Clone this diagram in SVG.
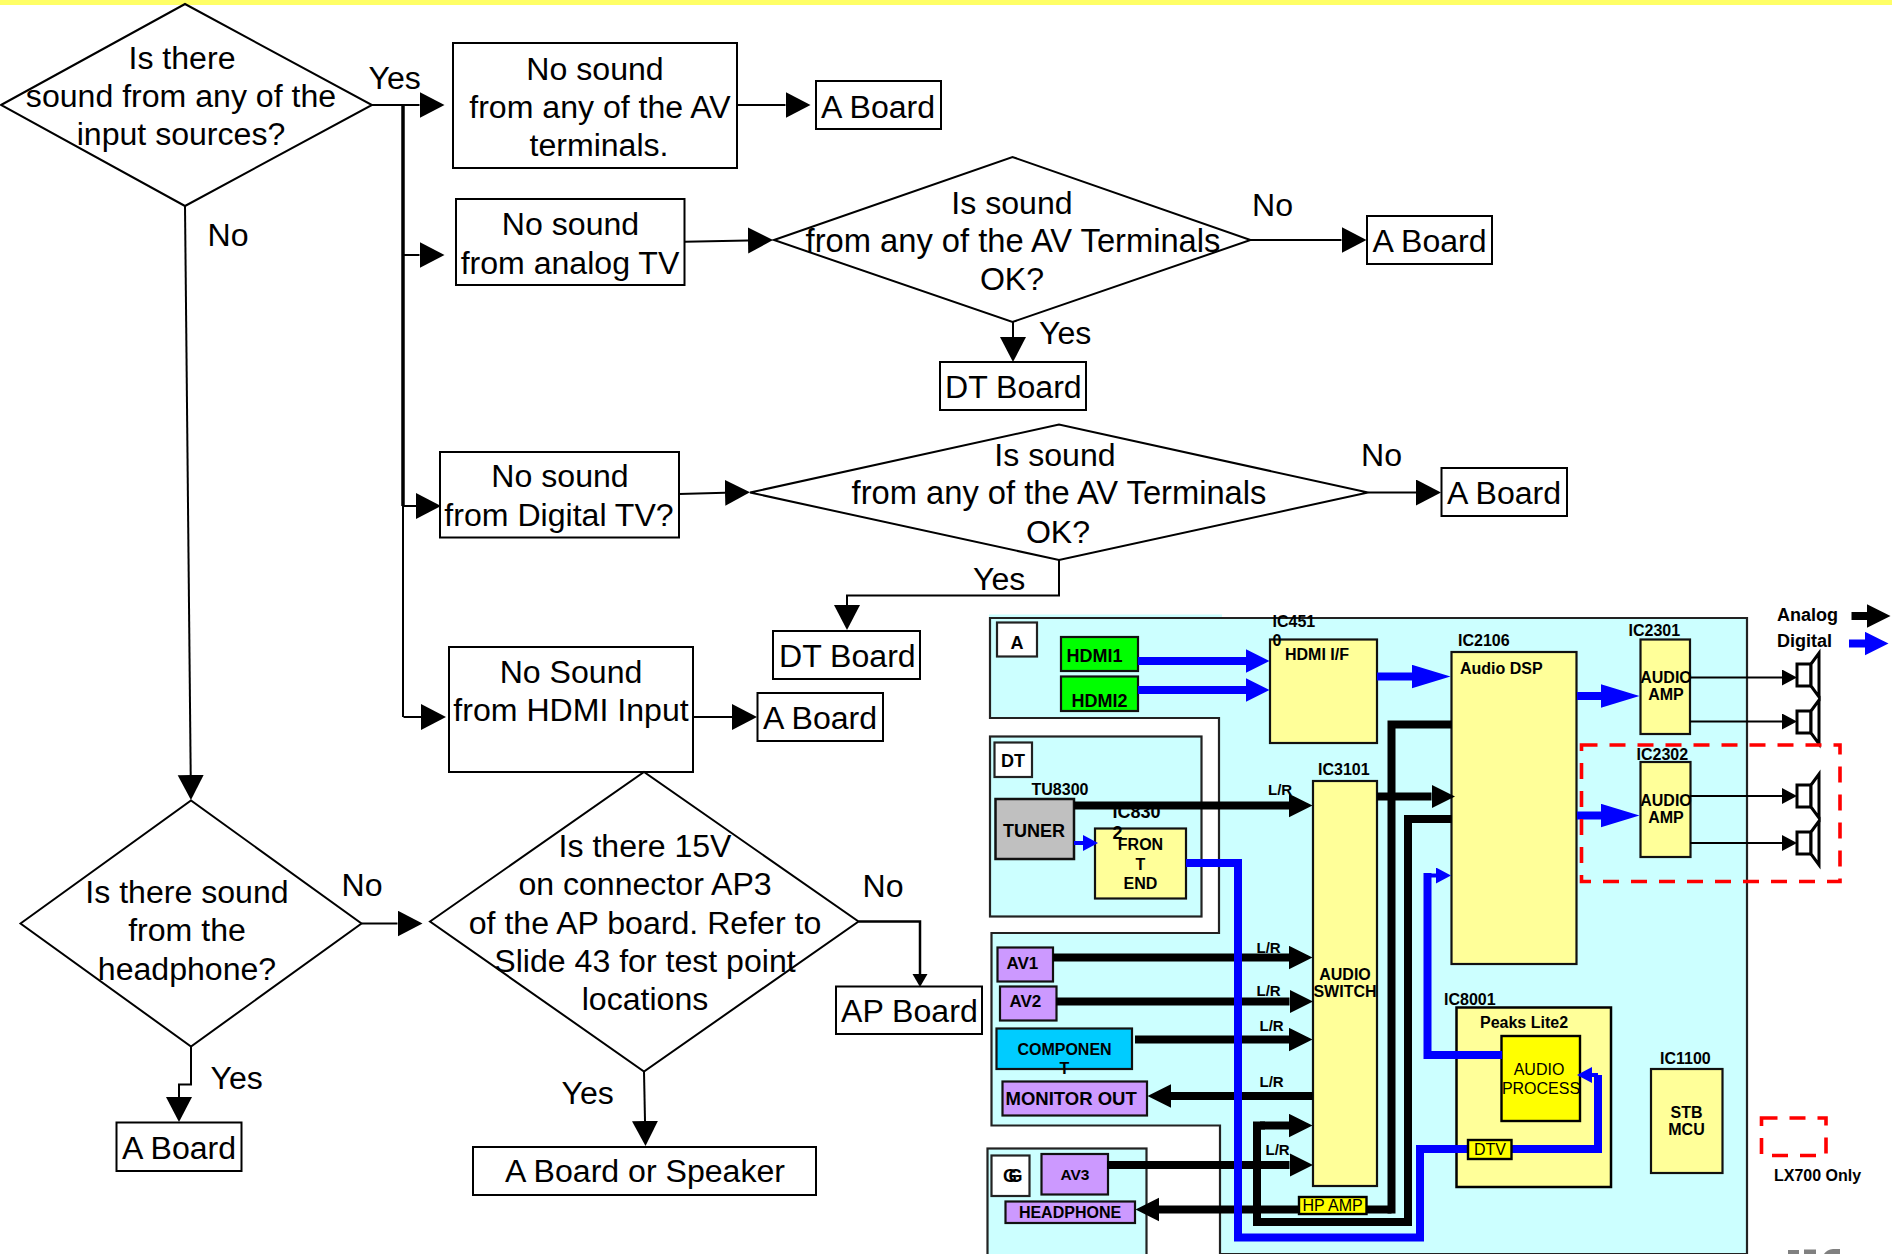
<svg xmlns="http://www.w3.org/2000/svg" width="1892" height="1254" viewBox="0 0 1892 1254">
<style>
text{font-family:"Liberation Sans",Arial,sans-serif;fill:#000}
.f{font-size:32.1px;transform:translateY(.6px)}
.f.v{font-size:32.7px}
.m{text-anchor:middle}
.b{font-size:16px;font-weight:bold}
.r{font-size:16px}
.n{fill:#fff;stroke:#000;stroke-width:2}
.y{fill:#ffff99;stroke:#111;stroke-width:2.2}
.c{fill:#ccffff;stroke:#222;stroke-width:2.2}
.w{fill:#fff;stroke:#222;stroke-width:2.2}
.p{fill:#cc99ff;stroke:#111;stroke-width:2.2}
.ye{fill:#ffff00;stroke:#000;stroke-width:2.4}
.fl{fill:none;stroke:#000;stroke-width:2;marker-end:url(#hf)}
.fp{fill:none;stroke:#000;stroke-width:2}
.k{fill:none;stroke:#000;stroke-width:8;marker-end:url(#hk)}
.u{fill:none;stroke:#0000ff;stroke-width:8;marker-end:url(#hb)}
.kp{fill:none;stroke:#000;stroke-width:8}
.t{fill:none;stroke:#000;stroke-width:2;marker-end:url(#hs)}
.d{fill:none;stroke:#ff0000;stroke-width:3.6;stroke-dasharray:16 12}
.s{fill:#fff;stroke:#000;stroke-width:3}
</style>
<defs>
<marker id="hf" markerUnits="userSpaceOnUse" markerWidth="26" markerHeight="28" refX="0" refY="13" orient="auto"><path d="M0 0L25 13L0 26Z" fill="#000"/></marker>
<marker id="hp" markerUnits="userSpaceOnUse" markerWidth="14" markerHeight="16" refX="0" refY="7.5" orient="auto"><path d="M0 0L13 7.5L0 15Z" fill="#000"/></marker>
<marker id="hk" markerUnits="userSpaceOnUse" markerWidth="24" markerHeight="25" refX="0" refY="12" orient="auto"><path d="M0 0.3L23.500 12L0 23.700Z" fill="#000"/></marker>
<marker id="hb" markerUnits="userSpaceOnUse" markerWidth="39" markerHeight="25" refX="0" refY="12" orient="auto"><path d="M0 0.3L23.500 12L0 23.700Z" fill="#0000ff"/></marker>
<marker id="hbl" markerUnits="userSpaceOnUse" markerWidth="40" markerHeight="25" refX="0" refY="12" orient="auto"><path d="M0 0.3L38.500 12L0 23.700Z" fill="#0000ff"/></marker>
<marker id="hs" markerUnits="userSpaceOnUse" markerWidth="16" markerHeight="17" refX="0" refY="8" orient="auto"><path d="M0 0L15 8L0 16Z" fill="#000"/></marker>
<marker id="hsb" markerUnits="userSpaceOnUse" markerWidth="16" markerHeight="17" refX="0" refY="8" orient="auto"><path d="M0 0L15 8L0 16Z" fill="#0000ff"/></marker>
</defs>
<rect id="top-bar" x="0" y="0" width="1892" height="5" fill="#ffff66"/>

<g id="d1"><polygon class="n" points="1,105 185,4 372,105 185,206"/><text class="f m" x="182" y="68">Is there</text><text class="f m" x="181" y="106.500">sound from any of the</text><text class="f m" x="181" y="144">input sources?</text></g>
<g id="b1"><rect class="n" x="453" y="43" width="284" height="125"/><text class="f m" x="595" y="79">No sound</text><text class="f m" x="600" y="117">from any of the AV</text><text class="f m" x="599" y="155">terminals.</text></g>
<g id="a1"><rect class="n" x="816" y="81" width="125" height="48"/><text class="f" x="821" y="117">A Board</text></g>
<g id="b2"><rect class="n" x="456" y="199" width="228.500" height="86"/><text class="f m" x="570.500" y="234">No sound</text><text class="f m" x="570" y="273">from analog TV</text></g>
<g id="d2"><polygon class="n" points="774,240 1012.500,157 1250.500,240 1012.500,322"/><text class="f m" x="1012" y="213">Is sound</text><text class="f v m" x="1013" y="251.500">from any of the AV Terminals</text><text class="f m" x="1012" y="289">OK?</text></g>
<g id="a2"><rect class="n" x="1367" y="216" width="125" height="48"/><text class="f" x="1372.500" y="251.500">A Board</text></g>
<g id="dt1"><rect class="n" x="940" y="362" width="146" height="48"/><text class="f" x="945" y="397">DT Board</text></g>
<g id="b3"><rect class="n" x="440" y="452" width="239" height="85.500"/><text class="f m" x="560" y="486.500">No sound</text><text class="f m" x="559" y="525">from Digital TV?</text></g>
<g id="d3"><polygon class="n" points="750,492.500 1059,424.500 1368,492.500 1059,560"/><text class="f m" x="1055" y="465">Is sound</text><text class="f v m" x="1059" y="503">from any of the AV Terminals</text><text class="f m" x="1058" y="542.500">OK?</text></g>
<g id="a3"><rect class="n" x="1441.500" y="468" width="125.500" height="48"/><text class="f" x="1447" y="503">A Board</text></g>
<g id="dt2"><rect class="n" x="773" y="631" width="147" height="48"/><text class="f" x="779" y="666">DT Board</text></g>
<g id="b4"><rect class="n" x="449" y="647" width="244" height="125"/><text class="f m" x="571" y="682">No Sound</text><text class="f m" x="571" y="720.500">from HDMI Input</text></g>
<g id="a4"><rect class="n" x="757.500" y="693" width="125.500" height="48"/><text class="f" x="763" y="728">A Board</text></g>
<g id="d4"><polygon class="n" points="20.500,923.500 191,800.500 361.500,923.500 191,1046.500"/><text class="f m" x="187" y="902.500">Is there sound</text><text class="f m" x="187" y="940.500">from the</text><text class="f m" x="187" y="979">headphone?</text></g>
<g id="a5"><rect class="n" x="116.500" y="1122.500" width="125" height="48.500"/><text class="f" x="122" y="1158">A Board</text></g>
<g id="d5"><polygon class="n" points="430,921.500 644,772 858.500,921.500 644,1071.500"/><text class="f m" x="645" y="856">Is there 15V</text><text class="f m" x="645" y="894.500">on connector AP3</text><text class="f m" x="645" y="933">of the AP board. Refer to</text><text class="f m" x="645" y="971">Slide 43 for test point</text><text class="f m" x="645" y="1009">locations</text></g>
<g id="ap"><rect class="n" x="836" y="986.500" width="146" height="47.500"/><text class="f" x="841" y="1021.500">AP Board</text></g>
<g id="as"><rect class="n" x="473" y="1147" width="343" height="48"/><text class="f m" x="645" y="1181.500">A Board or Speaker</text></g>

<g id="flow-labels">
<text class="f" x="368.500" y="88">Yes</text><text class="f" x="207.500" y="245">No</text><text class="f" x="1252" y="215.500">No</text><text class="f" x="1039" y="343">Yes</text><text class="f" x="1361" y="465.500">No</text><text class="f" x="973" y="589">Yes</text><text class="f" x="341.500" y="895.500">No</text><text class="f" x="210.500" y="1088">Yes</text><text class="f" x="862.500" y="896">No</text><text class="f" x="561.500" y="1103">Yes</text>
</g>

<g id="panel-main"><rect x="989" y="614.500" width="233" height="4" fill="#ccffff"/><polygon class="c" points="990,618 1747,618 1747,1254 1220,1254 1220,1125.500 991.500,1125.500 991.500,933 1219,933 1219,718 990,718"/><rect class="w" x="997" y="622.500" width="40" height="34"/><text x="1017" y="648.500" class="m" font-size="18" font-weight="bold">A</text></g>
<g id="panel-dt"><rect class="c" x="990" y="736.500" width="211.500" height="180"/><rect class="w" x="994.500" y="742.500" width="37.500" height="34.500"/><text x="1013" y="766.500" class="m" font-size="18" font-weight="bold">DT</text></g>
<g id="panel-g"><rect class="c" x="987.500" y="1148.500" width="159" height="110"/><rect class="w" x="991.500" y="1155.500" width="38" height="40.500"/><text x="1003" y="1181.500" font-size="18" font-weight="bold">G</text><text x="1008.500" y="1181.500" font-size="18" font-weight="bold">G</text></g>

<g id="hdmi1"><rect x="1061" y="637" width="77" height="34" fill="#00ff00" stroke="#111" stroke-width="2.2"/><text x="1066.500" y="661.500" font-size="18" font-weight="bold">HDMI1</text></g>
<g id="hdmi2"><rect x="1061" y="676.500" width="77" height="34.500" fill="#00ff00" stroke="#111" stroke-width="2.2"/><text x="1071.500" y="706.500" font-size="18" font-weight="bold">HDMI2</text></g>
<g id="ic4510"><rect class="y" x="1270" y="639.500" width="107" height="103.500"/><text class="b" x="1272.500" y="626.500">IC451</text><text class="b" x="1272.500" y="646">0</text><text class="b" x="1285" y="660">HDMI I/F</text></g>
<g id="ic3101"><rect class="y" x="1313" y="781" width="64" height="405"/><text class="b" x="1318" y="775">IC3101</text><text class="b m" x="1345" y="980">AUDIO</text><text class="b m" x="1345" y="997">SWITCH</text></g>
<g id="ic2106"><rect class="y" x="1451.500" y="652" width="125" height="312"/><text class="b" x="1458" y="645.500">IC2106</text><text class="b" x="1460" y="673.500">Audio DSP</text></g>
<g id="ic2301"><rect class="y" x="1640.500" y="639.500" width="49.500" height="94.500"/><text class="b" x="1628.500" y="635.500">IC2301</text><text class="b m" x="1666" y="682.500">AUDIO</text><text class="b m" x="1666" y="700">AMP</text></g>
<g id="ic2302"><rect class="y" x="1640.500" y="762" width="50" height="95"/><text class="b" x="1636.500" y="760">IC2302</text><text class="b m" x="1666" y="805.500">AUDIO</text><text class="b m" x="1666" y="823">AMP</text></g>
<g id="tuner"><rect x="995.500" y="799" width="78.500" height="60" fill="#c0c0c0" stroke="#111" stroke-width="2.500"/><text class="b" x="1031.500" y="794.500">TU8300</text><text x="1003" y="836.500" font-size="18" font-weight="bold">TUNER</text></g>
<g id="front-end"><rect class="y" x="1095" y="828.500" width="91" height="70"/><text x="1112.500" y="817.500" font-size="18" font-weight="bold">IC830</text><text x="1112.500" y="839" font-size="18" font-weight="bold">2</text><text class="b m" x="1140.500" y="850">FRON</text><text class="b m" x="1140.500" y="869.500">T</text><text class="b m" x="1140.500" y="889">END</text></g>
<g id="av1"><rect class="p" x="997.500" y="947.500" width="55.500" height="34"/><text x="1006.500" y="968.500" font-size="17" font-weight="bold">AV1</text></g>
<g id="av2"><rect class="p" x="1000" y="986.500" width="56.500" height="34"/><text x="1009.500" y="1006.500" font-size="17" font-weight="bold">AV2</text></g>
<g id="component"><rect x="996.500" y="1028.500" width="135.500" height="40.500" fill="#00ccff" stroke="#111" stroke-width="2.200"/><text class="b m" x="1064.500" y="1055">COMPONEN</text><text class="b m" x="1064.500" y="1073.500">T</text></g>
<g id="monitor-out"><rect class="p" x="1002.500" y="1081.500" width="144.500" height="34"/><text x="1005.500" y="1105" font-size="18.500" font-weight="bold">MONITOR OUT</text></g>
<g id="av3"><rect class="p" x="1041.500" y="1154" width="66.500" height="40.500"/><text x="1075" y="1180" class="m" font-size="15.500" font-weight="bold">AV3</text></g>
<g id="headphone"><rect class="p" x="1005.500" y="1201.500" width="129.500" height="21.500"/><text class="b m" x="1070" y="1217.500">HEADPHONE</text></g>
<g id="ic8001"><rect x="1456.500" y="1007.500" width="154.500" height="179.500" fill="#ffff99" stroke="#000" stroke-width="2.500"/><text class="b" x="1444" y="1005">IC8001</text><text class="b" x="1480" y="1027.500">Peaks Lite2</text></g>
<g id="audio-process"><rect class="ye" x="1501.500" y="1036" width="78.500" height="85"/><text class="r m" x="1539" y="1075">AUDIO</text><text class="r m" x="1541" y="1094">PROCESS</text></g>
<g id="ic1100"><rect class="y" x="1651" y="1069" width="71.500" height="104"/><text class="b" x="1660" y="1064">IC1100</text><text class="b m" x="1686.500" y="1118">STB</text><text class="b m" x="1686.500" y="1135">MCU</text></g>
<g id="speaker-1"><rect class="s" x="1797" y="664" width="14" height="22"/><polygon class="s" points="1811,664 1819,653 1819,697 1811,686"/></g>
<g id="speaker-2"><rect class="s" x="1797" y="711" width="14" height="22"/><polygon class="s" points="1811,711 1819,700 1819,744 1811,733"/></g>
<g id="speaker-3"><rect class="s" x="1797" y="785" width="14" height="22"/><polygon class="s" points="1811,785 1819,774 1819,818 1811,807"/></g>
<g id="speaker-4"><rect class="s" x="1797" y="832" width="14" height="22"/><polygon class="s" points="1811,832 1819,821 1819,865 1811,854"/></g>

<g id="connectors">
<path class="fl" d="M372 105H419.500"/>
<path d="M403 105V506" fill="none" stroke="#000" stroke-width="3.500"/>
<path class="fp" d="M403 506V717"/>
<path class="fl" d="M403 255H419.500"/>
<path class="fl" d="M403 506H416"/>
<path class="fl" d="M403.500 717H421"/>
<path class="fl" d="M737 105H785.500"/>
<path class="fl" d="M684.500 241.700L748 240.500"/>
<path class="fl" d="M1250.500 240H1341.500"/>
<path class="fl" d="M1013 322V337"/>
<path class="fl" d="M679 494L725 492.800"/>
<path class="fl" d="M1368 492.500H1416"/>
<path class="fl" d="M1059 560V595.500H847V605"/>
<path class="fl" d="M693 717H732"/>
<path class="fl" d="M185 206L190.700 775"/>
<path class="fl" d="M361.500 923.500H397.500"/>
<path class="fl" d="M191 1046.500V1084.500H179V1097"/>
<path d="M858.500 921.500H920V974" fill="none" stroke="#000" stroke-width="2.500" marker-end="url(#hp)"/>
<path class="fl" d="M644 1071.500L645 1121"/>

<path class="k" d="M1074 805.500H1289"/>
<path class="k" d="M1377 796.500H1431.500"/>
<path class="k" d="M1053 957.500H1289"/>
<path class="k" d="M1056 1001.500H1289.500"/>
<path class="k" d="M1135 1039.500H1289"/>
<path class="k" d="M1313 1096H1171"/>
<path class="k" d="M1107 1165H1289.500"/>
<path class="k" d="M1391.500 1209.500H1159"/>
<path class="kp" d="M1452 724.500H1391.500V1213.500"/>
<path class="kp" d="M1452 819H1408V1222H1257V1125.500H1265"/>
<path class="k" d="M1260 1125.500H1289"/>

<path class="t" d="M1690 677.500H1782"/>
<path class="t" d="M1690 721.500H1782"/>
<path class="t" d="M1690 796H1782"/>
<path class="t" d="M1690 843H1782"/>

<path class="u" d="M1138 661H1246"/>
<path class="u" d="M1138 690H1246"/>
<path fill="none" stroke="#0000ff" stroke-width="8" marker-end="url(#hbl)" d="M1377 676.500H1412"/>
<path fill="none" stroke="#0000ff" stroke-width="8" marker-end="url(#hbl)" d="M1577 696H1601"/>
<path fill="none" stroke="#0000ff" stroke-width="8" marker-end="url(#hbl)" d="M1577 815.500H1601"/>
<path fill="none" stroke="#0000ff" stroke-width="4" marker-end="url(#hsb)" d="M1074 843H1083"/>
<path fill="none" stroke="#0000ff" stroke-width="8" d="M1186 863H1238V1237.500H1420V1149H1598V1075"/>
<path fill="none" stroke="#0000ff" stroke-width="4" marker-end="url(#hsb)" d="M1598 1075H1592"/>
<path fill="none" stroke="#0000ff" stroke-width="8" d="M1502 1055H1427.500V873"/>
<path fill="none" stroke="#0000ff" stroke-width="4" marker-end="url(#hsb)" d="M1426 875.500H1436"/>

<path class="k" d="M1851.500 616H1867"/>
<path class="u" d="M1849 643.500H1865"/>
</g>

<g id="hp-amp"><rect class="ye" x="1299" y="1197" width="67.500" height="17"/><text class="r" x="1302.500" y="1211">HP AMP</text></g>
<g id="dtv"><rect class="ye" x="1468" y="1140" width="43.500" height="19"/><text class="r" x="1474" y="1155">DTV</text></g>

<g id="io-labels" class="lr">
<text x="1268" y="794.500" font-size="15" font-weight="bold">L/R</text>
<text x="1256.500" y="952.500" font-size="15" font-weight="bold">L/R</text>
<text x="1256.500" y="995.500" font-size="15" font-weight="bold">L/R</text>
<text x="1259.500" y="1031" font-size="15" font-weight="bold">L/R</text>
<text x="1259.500" y="1086.500" font-size="15" font-weight="bold">L/R</text>
<text x="1265.500" y="1155" font-size="15" font-weight="bold">L/R</text>
</g>

<g id="legend">
<text x="1777" y="621" font-size="18" font-weight="bold">Analog</text>
<text x="1777" y="646.500" font-size="18" font-weight="bold">Digital</text>
<rect class="d" x="1581.500" y="745" width="258.500" height="136.500"/>
<rect class="d" x="1761.500" y="1118" width="64.500" height="37.500"/>
<text class="b" x="1774" y="1181">LX700 Only</text>
</g>
<path id="edge-fragment" d="M1788 1250H1799V1254H1788ZM1804 1249.500H1816V1254H1804ZM1824 1254Q1827 1249.500 1833 1249H1840V1254Z" fill="#808080"/>
</svg>
